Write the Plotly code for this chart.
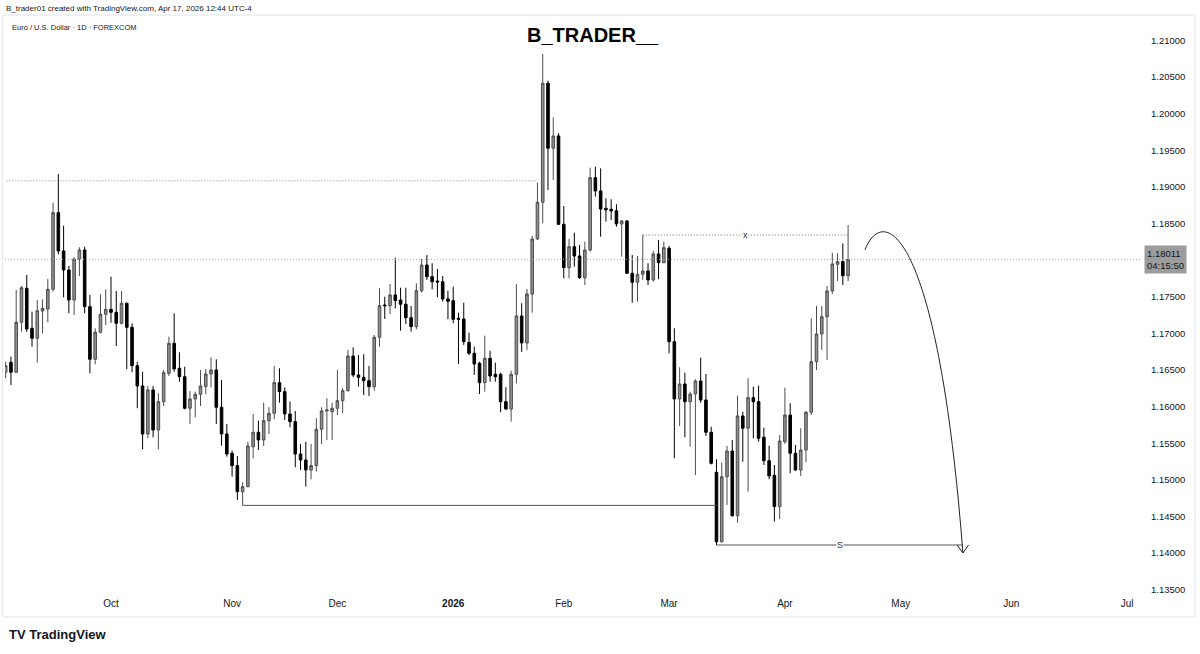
import pandas as pd
import plotly.graph_objects as go

# ---------------- data (EUR/USD daily, FOREXCOM) ----------------
holidays = ["2025-12-25", "2026-01-01"]
first_day = "2025-09-03"
last_axis_day = "2026-07-31"

open_ = [1.16469, 1.16605, 1.16469, 1.17152, 1.17616, 1.17070, 1.16933, 1.17306, 1.17333, 1.17602,
         1.18649, 1.18126, 1.17866, 1.17456, 1.18012, 1.18139, 1.17365, 1.16646, 1.17015, 1.17261,
         1.17329, 1.17288, 1.17138, 1.17411, 1.17083, 1.16559, 1.16281, 1.15626, 1.16227, 1.15680,
         1.16067, 1.16455, 1.16865, 1.16523, 1.16408, 1.15977, 1.16104, 1.16168, 1.16272, 1.16445,
         1.16500, 1.15990, 1.15626, 1.15362, 1.15193, 1.14837, 1.14906, 1.15452, 1.15649, 1.15544,
         1.15807, 1.15908, 1.16327, 1.16204, 1.15899, 1.15794, 1.15352, 1.15270, 1.15134, 1.15193,
         1.15690, 1.15940, 1.15930, 1.15977, 1.16081, 1.16217, 1.16691, 1.16432, 1.16400, 1.16354,
         1.16272, 1.16947, 1.17388, 1.17378, 1.17525, 1.17456, 1.17398, 1.17214, 1.17092, 1.17583,
         1.17934, 1.17775, 1.17716, 1.17706, 1.17470, 1.17447, 1.17206, 1.17197, 1.16878, 1.16728,
         1.16592, 1.16327, 1.16660, 1.16441, 1.16441, 1.16067, 1.15967, 1.16441, 1.17238, 1.16869,
         1.17538, 1.18290, 1.18791, 1.20417, 1.19529, 1.19697, 1.18490, 1.17898, 1.18184, 1.18057,
         1.17761, 1.18139, 1.19127, 1.18945, 1.18709, 1.18695, 1.18676, 1.18495, 1.18536, 1.17821,
         1.17698, 1.17807, 1.17852, 1.17730, 1.18085, 1.17966, 1.18163, 1.16887, 1.16104, 1.16309,
         1.16067, 1.16172, 1.16350, 1.16090, 1.15649, 1.15102, 1.14154, 1.15042, 1.15393, 1.14510,
         1.15872, 1.15704, 1.16122, 1.16067, 1.15581, 1.15261, 1.15061, 1.14633, 1.15520, 1.15885,
         1.15362, 1.15134, 1.15407, 1.15922, 1.16613, 1.16992, 1.17228, 1.17579, 1.17944, 1.17980,
         1.17788]
high = [1.16613, 1.16682, 1.17593, 1.17648, 1.17798, 1.17297, 1.17456, 1.17466, 1.17743, 1.18786,
        1.19178, 1.18471, 1.17921, 1.18040, 1.18176, 1.18184, 1.17525, 1.17070, 1.17534, 1.17602,
        1.17775, 1.17579, 1.17579, 1.17420, 1.17138, 1.16613, 1.16477, 1.16281, 1.16281, 1.16182,
        1.16500, 1.16955, 1.17275, 1.16742, 1.16545, 1.16213, 1.16204, 1.16500, 1.16514, 1.16673,
        1.16646, 1.16363, 1.15762, 1.15398, 1.15325, 1.14966, 1.15520, 1.15899, 1.15807, 1.16053,
        1.15990, 1.16555, 1.16523, 1.16264, 1.16067, 1.15940, 1.15489, 1.15520, 1.15489, 1.15840,
        1.15990, 1.16113, 1.16053, 1.16500, 1.16250, 1.16773, 1.16810, 1.16705, 1.16714, 1.16555,
        1.16978, 1.17616, 1.17501, 1.17675, 1.18034, 1.17624, 1.17624, 1.17374, 1.17684, 1.18016,
        1.18071, 1.17958, 1.17880, 1.17784, 1.17583, 1.17638, 1.17283, 1.17419, 1.17010, 1.16818,
        1.16613, 1.16969, 1.16764, 1.16600, 1.16463, 1.16264, 1.16490, 1.17675, 1.17411, 1.17607,
        1.18331, 1.19059, 1.20817, 1.20452, 1.19952, 1.19734, 1.18740, 1.18290, 1.18376, 1.18208,
        1.18253, 1.19264, 1.19277, 1.19255, 1.18846, 1.18832, 1.18764, 1.18549, 1.18549, 1.18071,
        1.18057, 1.18344, 1.17958, 1.18130, 1.18276, 1.18253, 1.18194, 1.17070, 1.16537, 1.16463,
        1.16204, 1.16373, 1.16668, 1.16445, 1.15725, 1.15280, 1.15234, 1.15462, 1.15544, 1.16149,
        1.15930, 1.16387, 1.16272, 1.16286, 1.15712, 1.15466, 1.15202, 1.15612, 1.16258, 1.16045,
        1.15475, 1.15704, 1.15940, 1.17206, 1.17374, 1.17374, 1.17648, 1.18102, 1.18094, 1.18231,
        1.18481]
low = [1.16386, 1.16295, 1.16459, 1.17023, 1.17023, 1.16818, 1.16600, 1.17001, 1.17152, 1.17570,
       1.18081, 1.17493, 1.17275, 1.17251, 1.17784, 1.17275, 1.16455, 1.16578, 1.17000, 1.17115,
       1.17146, 1.16828, 1.17120, 1.16510, 1.16469, 1.15977, 1.15417, 1.15567, 1.15581, 1.15417,
       1.16008, 1.16418, 1.16477, 1.16340, 1.15963, 1.15762, 1.15854, 1.16008, 1.16168, 1.16264,
       1.15762, 1.15466, 1.15316, 1.15042, 1.14724, 1.14650, 1.14898, 1.15294, 1.15407, 1.15462,
       1.15626, 1.15827, 1.16053, 1.15817, 1.15717, 1.15171, 1.15134, 1.14906, 1.15007, 1.15111,
       1.15489, 1.15544, 1.15544, 1.15885, 1.15908, 1.16204, 1.16400, 1.16272, 1.16158, 1.16145,
       1.16217, 1.16818, 1.17197, 1.17265, 1.17343, 1.17037, 1.17128, 1.17023, 1.17056, 1.17556,
       1.17730, 1.17602, 1.17493, 1.17433, 1.17193, 1.17138, 1.16582, 1.16842, 1.16705, 1.16432,
       1.16172, 1.16204, 1.16340, 1.16340, 1.15922, 1.15954, 1.15794, 1.16318, 1.16746, 1.16773,
       1.17283, 1.18276, 1.18504, 1.18959, 1.19096, 1.18480, 1.17753, 1.17753, 1.17911, 1.17743,
       1.17661, 1.18116, 1.18867, 1.18321, 1.18526, 1.18549, 1.18458, 1.18048, 1.17810, 1.17419,
       1.17433, 1.17730, 1.17661, 1.17706, 1.17739, 1.17958, 1.16728, 1.15294, 1.15735, 1.15581,
       1.15452, 1.15066, 1.16053, 1.15598, 1.15210, 1.14109, 1.14141, 1.14656, 1.14496, 1.14414,
       1.15247, 1.14837, 1.15567, 1.15520, 1.15202, 1.15007, 1.14428, 1.14464, 1.15489, 1.15089,
       1.15120, 1.15052, 1.15239, 1.15885, 1.16500, 1.16773, 1.16637, 1.17538, 1.17716, 1.17661,
       1.17716]
close = [1.16559, 1.16469, 1.17152, 1.17624, 1.17060, 1.16933, 1.17310, 1.17343, 1.17602, 1.18649,
         1.18126, 1.17866, 1.17456, 1.18016, 1.18139, 1.17365, 1.16646, 1.17015, 1.17261, 1.17329,
         1.17288, 1.17138, 1.17411, 1.17083, 1.16559, 1.16281, 1.15626, 1.16227, 1.15680, 1.16067,
         1.16463, 1.16865, 1.16514, 1.16408, 1.15977, 1.16104, 1.16168, 1.16281, 1.16445, 1.16500,
         1.15990, 1.15626, 1.15352, 1.15193, 1.14837, 1.14906, 1.15462, 1.15649, 1.15544, 1.15807,
         1.15908, 1.16327, 1.16204, 1.15899, 1.15794, 1.15352, 1.15270, 1.15134, 1.15193, 1.15690,
         1.15940, 1.15954, 1.15977, 1.16081, 1.16217, 1.16691, 1.16432, 1.16400, 1.16354, 1.16272,
         1.16947, 1.17378, 1.17378, 1.17525, 1.17447, 1.17398, 1.17214, 1.17092, 1.17583, 1.17934,
         1.17775, 1.17706, 1.17702, 1.17470, 1.17439, 1.17193, 1.17193, 1.16887, 1.16728, 1.16582,
         1.16327, 1.16660, 1.16418, 1.16408, 1.16067, 1.15967, 1.16441, 1.17238, 1.16869, 1.17538,
         1.18290, 1.18791, 1.20417, 1.19529, 1.19697, 1.18490, 1.17898, 1.18184, 1.18057, 1.17761,
         1.18139, 1.19127, 1.18945, 1.18699, 1.18686, 1.18672, 1.18495, 1.18536, 1.17821, 1.17698,
         1.17807, 1.17852, 1.17730, 1.18085, 1.17966, 1.18171, 1.16887, 1.16104, 1.16309, 1.16067,
         1.16172, 1.16350, 1.16090, 1.15649, 1.15225, 1.14154, 1.15042, 1.15393, 1.14510, 1.15872,
         1.15704, 1.16122, 1.16067, 1.15567, 1.15261, 1.15052, 1.14633, 1.15530, 1.15885, 1.15362,
         1.15134, 1.15407, 1.15922, 1.16613, 1.16992, 1.17228, 1.17579, 1.17948, 1.17980, 1.17788,
         1.18011]

price_ticks = [1.135, 1.14, 1.145, 1.15, 1.155, 1.16, 1.165, 1.17, 1.175,
               1.185, 1.19, 1.195, 1.20, 1.205, 1.21]
last_price = 1.18011
countdown = "04:15:50"

# drawn levels (price values)
left_dotted_level = 1.19085
x_level = 1.18344
low_level = 1.14650
s_level = 1.14109

# ---------------- build ----------------
days = pd.bdate_range(first_day, last_axis_day)
days = days[~days.isin(pd.to_datetime(holidays))]
n = len(open_)
xi = list(range(n))

# month ticks: first trading day of each month Oct..Jul
tickvals, ticktext = [], []
prev = None
for i, d in enumerate(days):
    key = (d.year, d.month)
    if key != prev:
        if i > 0:
            tickvals.append(i)
            ticktext.append("<b>%d</b>" % d.year if d.month == 1 else d.strftime("%b"))
        prev = key

fig = go.Figure()
fig.add_trace(go.Candlestick(
    x=xi, open=open_, high=high, low=low, close=close,
    increasing=dict(line=dict(color="#4d4d4d", width=1), fillcolor="#8f8f8f"),
    decreasing=dict(line=dict(color="#000000", width=1), fillcolor="#000000"),
    whiskerwidth=0, hoverinfo="skip", showlegend=False))

i_c101 = 101
i_c121 = 121
i_c45 = 45
i_c135 = 135
i_last = n - 1

fine_dot = "1px,2px"
# lines
fig.add_shape(type="line", xref="x", yref="y", x0=-1, x1=i_c101, y0=left_dotted_level, y1=left_dotted_level,
              line=dict(color="#8a8a8a", width=1, dash=fine_dot))
fig.add_shape(type="line", xref="paper", yref="y", x0=0, x1=1, y0=last_price, y1=last_price,
              line=dict(color="#a8a8a8", width=1, dash=fine_dot))
fig.add_shape(type="line", xref="x", yref="y", x0=i_c121, x1=i_last, y0=x_level, y1=x_level,
              line=dict(color="#6a6a6a", width=1, dash=fine_dot))
fig.add_shape(type="line", xref="x", yref="y", x0=i_c45, x1=i_c135, y0=low_level, y1=low_level,
              line=dict(color="#555555", width=1))
arrow_end_x = 181.8
fig.add_shape(type="line", xref="x", yref="y", x0=i_c135, x1=arrow_end_x, y0=s_level, y1=s_level,
              line=dict(color="#555555", width=1))

# curved arrow (drawing)
p0 = (163.2, 1.1814); p1 = (166.5, 1.1876); p2 = (177.0, 1.1850); p3 = (arrow_end_x, 1.1400)
path = "M %f,%f C %f,%f %f,%f %f,%f" % (p0 + p1 + p2 + p3)
fig.add_shape(type="path", xref="x", yref="y", path=path, line=dict(color="#222222", width=1))
head = "M %f,%f L %f,%f L %f,%f" % (p3[0] - 1.1, p3[1] + 0.0011, p3[0], p3[1], p3[0] + 1.1, p3[1] + 0.0011)
fig.add_shape(type="path", xref="x", yref="y", path=head, line=dict(color="#222222", width=1))

# labels on lines
fig.add_annotation(x=(i_c121 + i_last) / 2, y=x_level, xref="x", yref="y", text="x", showarrow=False,
                   font=dict(size=9, color="#333333"), bgcolor="white", borderpad=0)
fig.add_annotation(x=(i_c135 + arrow_end_x) / 2, y=s_level, xref="x", yref="y", text="S", showarrow=False,
                   font=dict(size=9, color="#333333"), bgcolor="white", borderpad=0)

# price box
fig.add_annotation(x=1.0, y=last_price, xref="paper", yref="y", xanchor="left", yanchor="middle",
                   xshift=4, text="%.5f<br>%s" % (last_price, countdown), showarrow=False, align="left",
                   font=dict(size=9.5, color="#131722", family="Liberation Sans"),
                   bgcolor="#9c9c9c", borderpad=2)

# title & header texts
fig.add_annotation(x=(593 - 5) / 1135, y=1.0, xref="paper", yref="paper", yanchor="middle",
                   yshift=-15, text="<b>B_TRADER__</b>", showarrow=False,
                   font=dict(size=20, color="#000000", family="Liberation Sans"))
fig.add_annotation(x=0, y=1, xref="paper", yref="paper", xanchor="left", yanchor="middle",
                   xshift=-1, yshift=12, text="B_trader01 created with TradingView.com, Apr 17, 2026 12:44 UTC-4",
                   showarrow=False, font=dict(size=8, color="#131722", family="Liberation Sans"))
fig.add_annotation(x=0, y=1, xref="paper", yref="paper", xanchor="left", yanchor="middle",
                   xshift=5, yshift=-7, text="Euro / U.S. Dollar · 1D · FOREXCOM",
                   showarrow=False, font=dict(size=7.5, color="#131722", family="Liberation Sans"))
fig.add_annotation(x=0, y=0, xref="paper", yref="paper", xanchor="left", yanchor="middle",
                   xshift=2, yshift=-42, text="<b>TV</b> <b>TradingView</b>",
                   showarrow=False, font=dict(size=13, color="#131722", family="Liberation Sans"))

# outer frame
fig.add_shape(type="rect", xref="paper", yref="paper", x0=-0.002, x1=1.0485, y0=-0.0437, y1=1.0087,
              line=dict(color="#e0e3eb", width=1))

fig.update_layout(
    width=1200, height=654,
    margin=dict(l=5, r=60, t=20, b=62),
    paper_bgcolor="white", plot_bgcolor="white",
    font=dict(family="Liberation Sans", color="#131722"),
    showlegend=False,
    xaxis=dict(range=[-0.13, 215.44], showgrid=False, zeroline=False, showline=False,
               tickvals=tickvals, ticktext=ticktext, ticks="", tickfont=dict(size=10),
               rangeslider=dict(visible=False), ticklabelstandoff=4),
    yaxis=dict(side="right", range=[1.13467, 1.21281], showgrid=False, zeroline=False, showline=False,
               tickvals=price_ticks, ticktext=["%.5f" % v for v in price_ticks], ticks="",
               tickfont=dict(size=9.5), ticklabelstandoff=10),
)

fig.write_html("out.html", config={"displayModeBar": False},
               post_script="document.body.style.margin='0';")
